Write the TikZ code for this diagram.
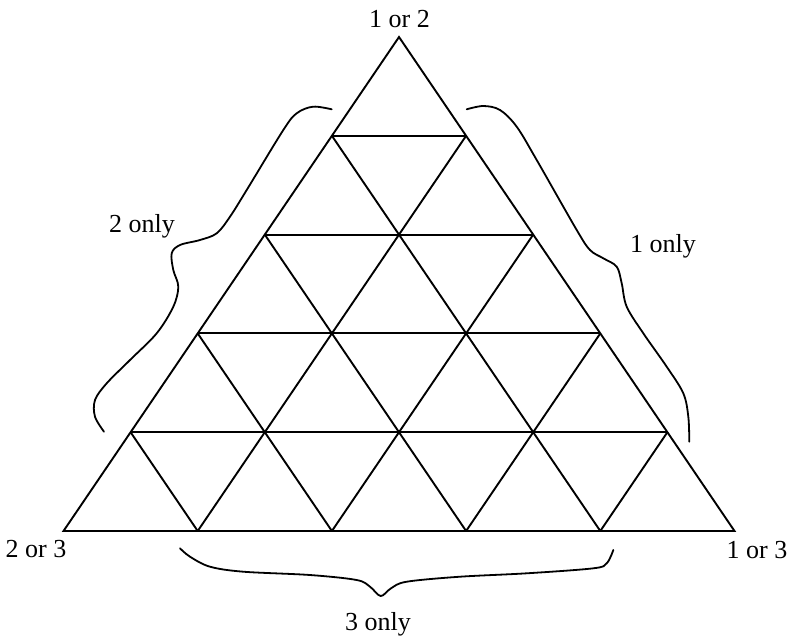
\documentclass[tikz,border=0pt]{standalone}
\usepackage{fontspec}
\setmainfont{Liberation Serif}
\begin{document}
\begin{tikzpicture}[x=1pt,y=-1pt,
  gridline/.style={line width=1.9pt},
  brc/.style={line width=1.8pt, line cap=round},
  lbl/.style={font=\fontsize{26}{30}\selectfont, inner sep=0pt, anchor=base}]
\useasboundingbox (0,0) rectangle (791,635);
\foreach \i in {0,...,5}{
  \foreach \j in {0,...,\i}{
    \coordinate (p\i\j) at ({399+(\j-\i/2)*134.2},{37+\i*98.8});
  }
}
\draw[gridline, line join=miter] (p00) -- (p50) -- (p55) -- cycle;
\foreach \k in {1,...,4}{
  \draw[gridline] (p\k0) -- (p\k\k);
}
\foreach \k in {1,...,4}{
  \pgfmathtruncatemacro{\m}{5-\k}
  \draw[gridline] (p\k\k) -- (p5\k);
  \draw[gridline] (p\k0) -- (p5\m);
}
% braces
\draw[brc] plot[smooth, tension=0.55] coordinates {
  (331.7,109.3) (313,106.7) (296.7,113.3) (283.3,130)
  (246.7,190) (230,216.7) (216.7,233.3) (200,240) (180,245)
  (171.7,253.3) (173.3,270) (178.3,286.7) (173.3,306.7) (156.7,333.3)
  (130,360) (106.7,383.3) (95,400) (95,416.7) (104,431.7)};
\draw[brc] plot[smooth, tension=0.55] coordinates {
  (466.7,109.3) (483.3,106) (500,110) (516.7,126.7) (536.7,160)
  (576.7,230) (590,250) (603.3,258.3) (616.7,266.7)
  (621.7,283.3) (626.7,306.7) (643.3,333.3) (666.7,366.7) (683.3,393.3)
  (688.3,416.7) (689.3,441.7)};
\draw[brc] plot[smooth, tension=0.55] coordinates {
  (180,548.3) (190,556.7) (210,566.7) (243.3,571.7) (310,575)
  (356.7,580) (370,586.7) (380.7,596) (391,588.3) (406.7,581.7)
  (460,576.7) (526.7,573.3) (593.3,568.3) (606.7,563.3) (613.3,550)};
% labels
\node[lbl] (t12) at (399.5,27) {1 or 2};
\node[lbl] (t2) at (142,232) {2 only};
\node[lbl] (t1) at (663,252) {1 only};
\node[lbl] (t23) at (36,557) {2 or 3};
\node[lbl] (t13) at (757,558) {1 or 3};
\node[lbl] (t3) at (378,630) {3 only};
\end{tikzpicture}
\end{document}
